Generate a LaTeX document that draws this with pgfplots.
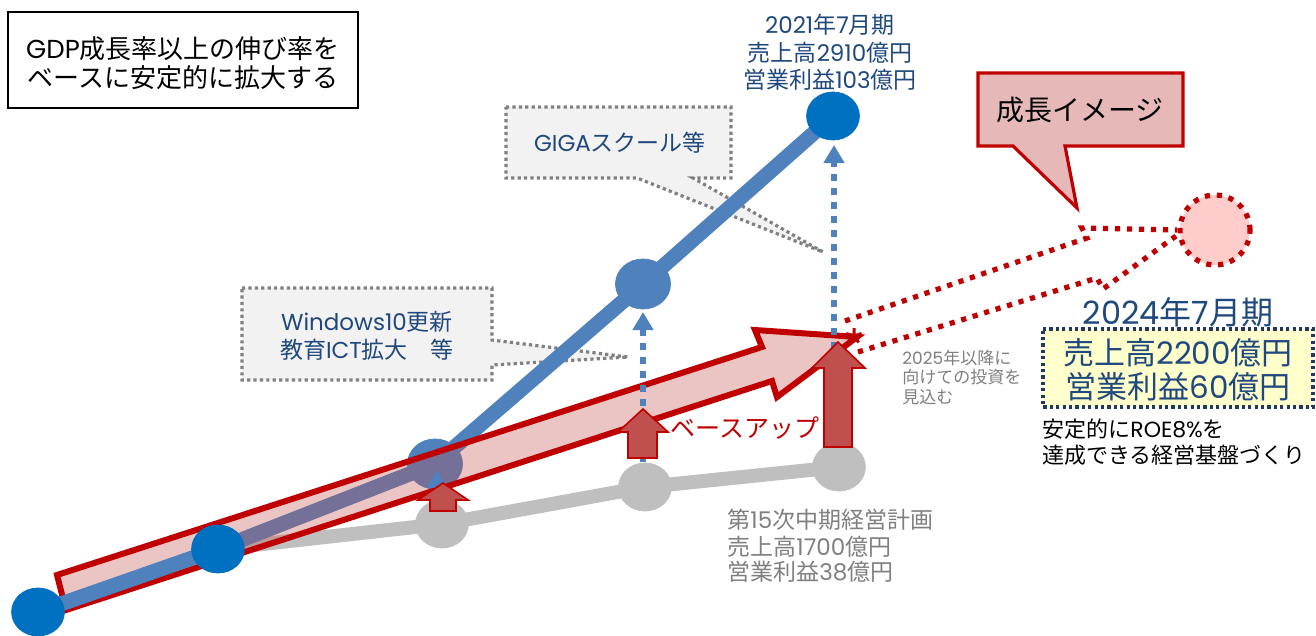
\documentclass[border=0pt]{standalone}
\usepackage{fontspec}
\setmainfont{Noto Sans CJK JP}
\newfontfamily\lat{Poppins}
\usepackage{pgfplots}
\pgfplotsset{compat=1.18}
\usetikzlibrary{arrows.meta}
\definecolor{blueL}{HTML}{4F81BD}
\definecolor{blueD}{HTML}{0070C0}
\definecolor{grayL}{HTML}{BFBFBF}
\definecolor{redD}{HTML}{C00000}
\definecolor{redM}{HTML}{C0504D}
\definecolor{navy}{HTML}{1F497D}
\definecolor{navyD}{HTML}{1F3864}
\definecolor{txtgray}{HTML}{7F7F7F}
\definecolor{dotgray}{HTML}{808080}
\definecolor{boxgray}{HTML}{F2F2F2}
\definecolor{pinkbox}{HTML}{E6B9B8}
\definecolor{pinkc}{HTML}{FFCCCC}
\definecolor{yel}{HTML}{FFFFCC}
\tikzset{
  fs/.style={font=\fontsize{#1}{#1}\selectfont, inner sep=0pt},
}
\begin{document}
\begin{tikzpicture}
\begin{axis}[scale only axis, width=658bp, height=316.5bp,
  xmin=0, xmax=1316, ymin=0, ymax=633, y dir=reverse,
  hide axis, clip=false, clip marker paths=true]
\path (axis cs:0,0) rectangle (axis cs:1316,633);

% top-left box
\addplot[black, line width=0.7bp] coordinates {(8,12)(358,12)(358,108)(8,108)} --cycle;

% callouts (grey dotted)
\addplot[draw=dotgray, fill=boxgray, line width=1.6bp, dash pattern=on 1.6bp off 1.6bp]
  coordinates {(242,288)(492,288)(492,340)(628,357)(492,365)(492,380)(242,380)} --cycle;
\addplot[draw=dotgray, fill=boxgray, line width=1.6bp, dash pattern=on 1.6bp off 1.6bp]
  coordinates {(506,107)(731,107)(731,178)(693,178)(823,252)(637,178)(506,178)} --cycle;

% grey plan line
\addplot[grayL, line width=7bp] coordinates {(218,549)(442,524)(645,487)(839,467)};
\addplot[only marks, color=grayL, mark=*, mark size=12bp, mark options={xscale=1.1, draw=grayL, fill=grayL}]
  coordinates {(442,524)(645,487)(839,467)};

% blue actual line (part under the red arrow)
\addplot[blueL, line width=7.5bp] coordinates {(218,549)(435,464)(643,284)(833,116)};
\addplot[only marks, color=blueL, mark=*, mark size=12.5bp, mark options={xscale=1.1, draw=blueL, fill=blueL}]
  coordinates {(435,464)(643,284)};
\addplot[only marks, color=blueD, mark=*, mark size=12bp, mark options={xscale=1.1, draw=blueD, fill=blueD}]
  coordinates {(833,116)};

% big red arrow
\addplot[draw=redD, line width=3bp, fill=redM, fill opacity=0.33, line join=miter]
  coordinates {(57,575)(762,347)(755,330)(857,337)(777,397)(772,381)(66,610)} --cycle;

% blue actual line (part over the red arrow)
\addplot[blueL, line width=7.5bp] coordinates {(38,612)(218,549)};
\addplot[only marks, color=blueD, mark=*, mark size=12bp, mark options={xscale=1.1, draw=blueD, fill=blueD}]
  coordinates {(38,612)(218,549)};

% blue dotted arrows
\addplot[blueL, line width=3bp, dash pattern=on 3.5bp off 3.5bp, -{Triangle[width=10bp,length=9bp]}]
  coordinates {(437,508)(437,470)};
\addplot[blueL, line width=3bp, dash pattern=on 3.5bp off 3.5bp, -{Triangle[width=10bp,length=9bp]}]
  coordinates {(643,462)(643,312)};
\addplot[blueL, line width=3bp, dash pattern=on 3.5bp off 3.5bp, -{Triangle[width=10bp,length=9bp]}]
  coordinates {(834,447)(834,145)};

% small red up arrows
\addplot[draw=redD, fill=redM, line width=0.8bp]
  coordinates {(430,511)(430,500)(418,500)(443,483)(468,500)(456,500)(456,511)} --cycle;
\addplot[draw=redD, fill=redM, line width=0.8bp]
  coordinates {(628,458)(628,432)(618,432)(643,409)(668,432)(657,432)(657,458)} --cycle;
\addplot[draw=redD, fill=redM, line width=0.8bp]
  coordinates {(824,447)(824,368)(812,368)(838,342)(865,368)(852,368)(852,447)} --cycle;

% red dotted future arrow + circle
\addplot[redD, line width=2.6bp, dash pattern=on 2.6bp off 3.4bp]
  coordinates {(845,321)(1087,238)(1082,228)(1177,230)};
\addplot[redD, line width=2.6bp, dash pattern=on 2.6bp off 3.4bp]
  coordinates {(858,352)(1097,278)(1103,289)(1176,236)};
\addplot[only marks, color=redD, mark=*, mark size=17.5bp,
  mark options={draw=redD, fill=pinkc, line width=2.6bp, dash pattern=on 2.6bp off 3.4bp}]
  coordinates {(1215,230)};
\addplot[only marks, color=redD, mark=star, mark size=4bp, mark options={draw=redD, line width=1.5bp}]
  coordinates {(854,336)};

% growth image callout
\addplot[draw=redD, fill=pinkbox, line width=1.6bp]
  coordinates {(978,73)(1183,73)(1183,146)(1065,146)(1077,208)(1013,146)(978,146)} --cycle;

% yellow box
\addplot[draw=navyD, fill=yel, line width=1.6bp, dash pattern=on 1.6bp off 1.6bp]
  coordinates {(1043,329)(1313,329)(1313,407)(1043,407)} --cycle;

% texts
\node[fs=13bp] at (axis cs:183,49) {{\lat GDP}成長率以上の伸び率を};
\node[fs=13bp] at (axis cs:183,78) {ベースに安定的に拡大する};

\node[fs=11.5bp, text=navy] at (axis cs:830,25) {{\lat 2021}年{\lat 7}月期};
\node[fs=11.5bp, text=navy] at (axis cs:830,53) {売上高{\lat 2910}億円};
\node[fs=11.5bp, text=navy] at (axis cs:830,80) {営業利益{\lat 103}億円};

\node[fs=11.5bp, text=navy] at (axis cs:620,143) {{\lat GIGA}スクール等};
\node[fs=11.5bp, text=navy] at (axis cs:367,322) {{\lat Windows10}更新};
\node[fs=11.5bp, text=navy] at (axis cs:367,350) {教育{\lat ICT}拡大\hspace{1em}等};

\node[fs=14bp] at (axis cs:1080,110) {成長イメージ};

\node[fs=16bp, text=navy] at (axis cs:1178,312) {{\lat 2024}年{\lat 7}月期};
\node[fs=15.5bp, text=navy] at (axis cs:1178,353) {売上高{\lat 2200}億円};
\node[fs=15.5bp, text=navy] at (axis cs:1178,387) {営業利益{\lat 60}億円};
\node[fs=11bp, anchor=west] at (axis cs:1042,429) {安定的に{\lat ROE8\%}を};
\node[fs=11bp, anchor=west] at (axis cs:1042,455) {達成できる経営基盤づくり};

\node[fs=8.5bp, text=txtgray, anchor=west] at (axis cs:902,358) {{\lat 2025}年以降に};
\node[fs=8.5bp, text=txtgray, anchor=west] at (axis cs:902,377) {向けての投資を};
\node[fs=8.5bp, text=txtgray, anchor=west] at (axis cs:902,397) {見込む};

\node[fs=12.5bp, text=redD, anchor=west] at (axis cs:670,428) {ベースアップ};

\node[fs=11.5bp, text=txtgray, anchor=west] at (axis cs:727,520) {第{\lat 15}次中期経営計画};
\node[fs=11.5bp, text=txtgray, anchor=west] at (axis cs:727,547) {売上高{\lat 1700}億円};
\node[fs=11.5bp, text=txtgray, anchor=west] at (axis cs:727,572) {営業利益{\lat 38}億円};
\end{axis}
\end{tikzpicture}
\end{document}
